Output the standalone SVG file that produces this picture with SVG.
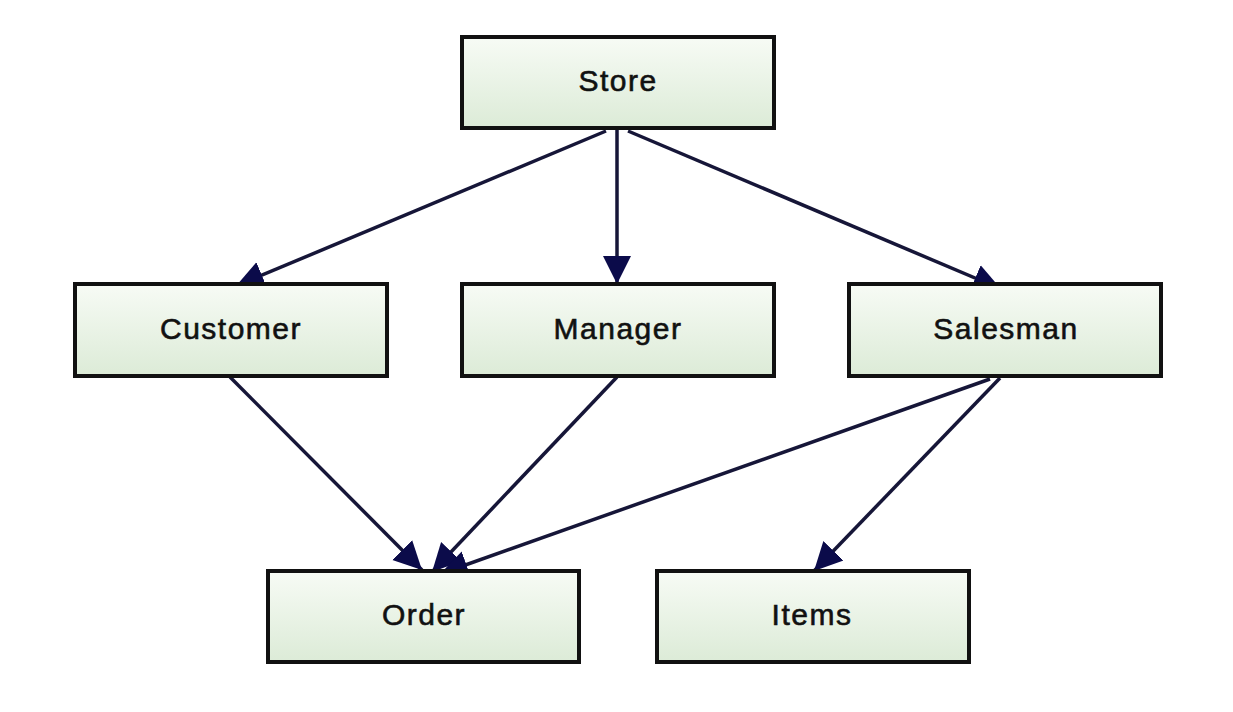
<svg xmlns="http://www.w3.org/2000/svg" width="1233" height="712" viewBox="0 0 1233 712">
<defs>
<linearGradient id="g" x1="0" y1="0" x2="0" y2="1">
<stop offset="0" stop-color="#f7fbf5"/>
<stop offset="1" stop-color="#dcebd7"/>
</linearGradient>
<marker id="a" viewBox="0 0 10 10" refX="10" refY="5" markerWidth="28" markerHeight="30" markerUnits="userSpaceOnUse" orient="auto">
<path d="M0,0 L10,5 L0,10 Z" fill="#0b0b4a"/>
</marker>
</defs>
<style>
.box{fill:url(#g);stroke:#111;stroke-width:4}
.lbl{font-family:"Liberation Sans",Arial,sans-serif;font-size:30px;letter-spacing:1.5px;fill:#111;stroke:#111;stroke-width:0.6;text-anchor:middle;dominant-baseline:central}
.e{stroke:#161638;stroke-width:3.5;fill:none;marker-end:url(#a)}
</style>
<rect width="1233" height="712" fill="#fff"/>
<g id="connectors">
<line class="e" x1="606" y1="131" x2="236" y2="286"/>
<line class="e" x1="617" y1="130" x2="617" y2="284"/>
<line class="e" x1="628" y1="131" x2="1001" y2="289"/>
<line class="e" x1="230" y1="377" x2="422" y2="570"/>
<line class="e" x1="617" y1="377" x2="432" y2="572"/>
<line class="e" x1="990" y1="379" x2="440" y2="574"/>
<line class="e" x1="1000" y1="378" x2="814" y2="571"/>
</g>
<g id="store"><rect class="box" x="462" y="37" width="312" height="91"/><text class="lbl" x="618" y="80">Store</text></g>
<g id="customer"><rect class="box" x="75" y="284" width="312" height="92"/><text class="lbl" x="231" y="328">Customer</text></g>
<g id="manager"><rect class="box" x="462" y="284" width="312" height="92"/><text class="lbl" x="618" y="328">Manager</text></g>
<g id="salesman"><rect class="box" x="849" y="284" width="312" height="92"/><text class="lbl" x="1006" y="328">Salesman</text></g>
<g id="order"><rect class="box" x="268" y="571" width="311" height="91"/><text class="lbl" x="424" y="614">Order</text></g>
<g id="items"><rect class="box" x="657" y="571" width="312" height="91"/><text class="lbl" x="812" y="614">Items</text></g>
</svg>
